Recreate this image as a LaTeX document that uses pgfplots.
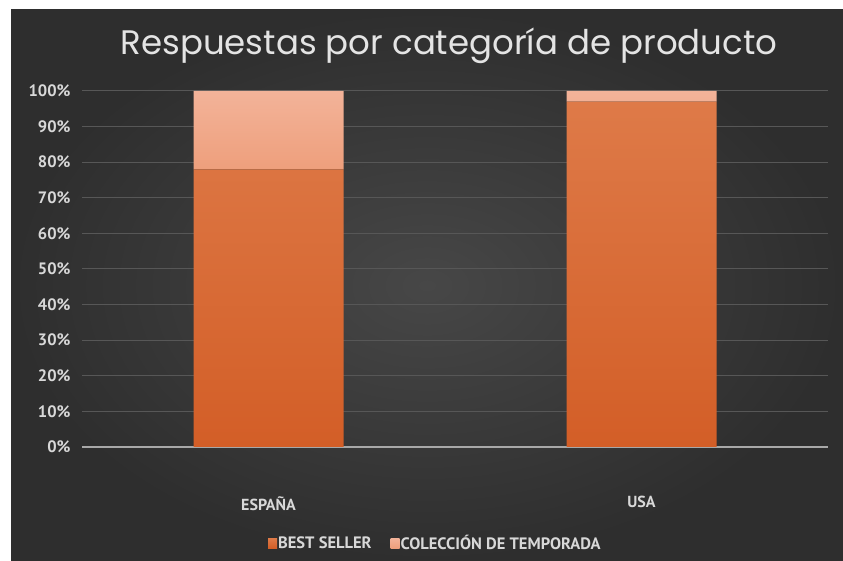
\documentclass[border=0pt]{standalone}
\usepackage{fontspec}
\setmainfont{PT Sans}
\newfontfamily\titlefont{Poppins}
\usepackage{pgfplots}
\pgfplotsset{compat=1.18}
\definecolor{bgin}{HTML}{474747}
\definecolor{bgout}{HTML}{2E2E2E}
\definecolor{gridc}{HTML}{575757}
\definecolor{axc}{HTML}{A8A8A8}
\definecolor{lbl}{HTML}{D8D8D8}
\definecolor{bsbot}{HTML}{D35E27}
\definecolor{bstop}{HTML}{DE7A48}
\definecolor{ctbot}{HTML}{EE9F7C}
\definecolor{cttop}{HTML}{F3B399}
\begin{document}
\begin{tikzpicture}
\useasboundingbox (0,0) rectangle (843bp,561bp);
\fill[white] (0,0) rectangle (843bp,561bp);
\shade[inner color=bgin, outer color=bgout] (11bp,0) rectangle (843bp,551bp);
\node[text=lbl!70!white, anchor=center] at (449bp,515bp) {\titlefont\fontsize{34bp}{40bp}\selectfont Respuestas por categoría de producto};
\begin{axis}[
  at={(82bp,114bp)}, anchor=south west,
  scale only axis, width=746bp, height=356bp,
  ybar stacked, bar width=150bp,
  xmin=-0.5, xmax=1.5, ymin=0, ymax=100,
  xtick={0,1}, xticklabels={ESPAÑA,USA},
  ytick={0,10,...,100},
  yticklabels={0\%,10\%,20\%,30\%,40\%,50\%,60\%,70\%,80\%,90\%,100\%},
  ymajorgrids, grid style={color=gridc, line width=1bp},
  axis x line=bottom, axis y line=left,
  x axis line style={color=axc, line width=1.3bp, -},
  y axis line style={draw=none},
  major tick length=0pt,
  tick style={draw=none},
  yticklabel style={font=\bfseries\fontsize{16.5bp}{19bp}\selectfont, text=lbl, anchor=east, xshift=-8bp},
  xticklabel style={font=\bfseries\fontsize{16bp}{19bp}\selectfont, text=lbl, anchor=north, yshift=-46bp},
  legend style={at={(0.473,-0.27)}, anchor=center, draw=none, fill=none,
    font=\bfseries\fontsize{16.5bp}{19bp}\selectfont, text=lbl, legend columns=2,
    /tikz/every even column/.append style={column sep=18bp},
    /tikz/every node/.append style={inner sep=1bp}},
  legend image code/.code={\fill[#1] (-2bp,-5bp) rectangle (7bp,5bp);},
]
\addplot[draw=none, bottom color=bsbot, top color=bstop] coordinates {(0,78) (1,97)};
\addplot[draw=none, bottom color=ctbot, top color=cttop] coordinates {(0,22) (1,3)};
\legend{BEST SELLER, COLECCIÓN DE TEMPORADA}
\end{axis}
\end{tikzpicture}
\end{document}
